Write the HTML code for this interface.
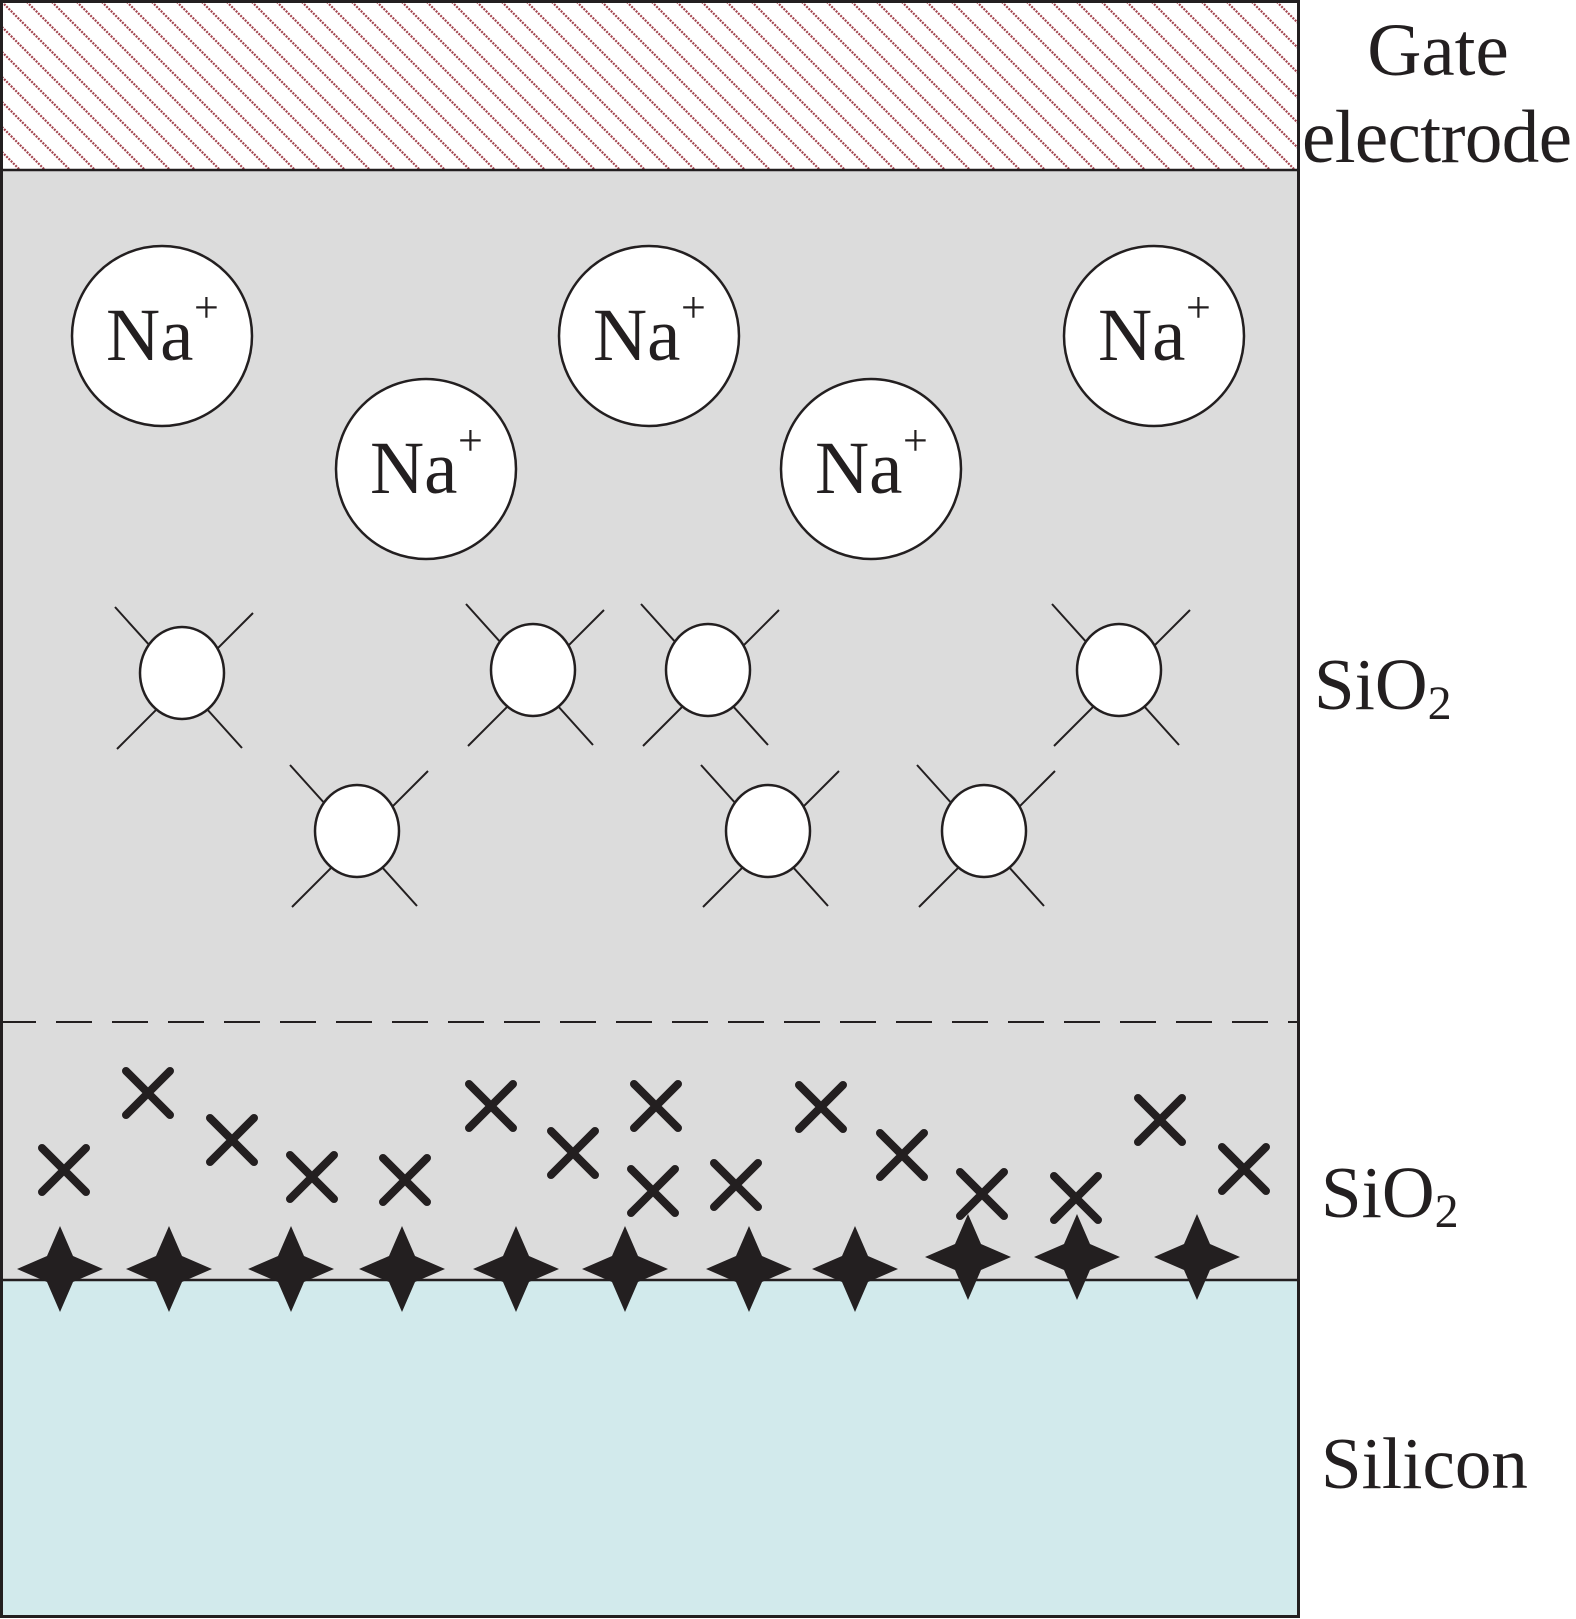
<!DOCTYPE html>
<html><head><meta charset="utf-8"><style>html,body{margin:0;padding:0;background:#fff}svg{display:block}</style></head>
<body>
<svg width="1576" height="1619" viewBox="0 0 1576 1619" xmlns="http://www.w3.org/2000/svg" font-family="'Liberation Serif', serif" fill="#231f20">
<defs>
<pattern id="h" width="25" height="25" patternUnits="userSpaceOnUse">
<path d="M-5,-5 L30,30 M-30,-5 L5,30 M20,-5 L55,30" stroke="#a3444e" stroke-width="2.2" stroke-dasharray="2 1.2"/>
</pattern>
<path id="st" d="M0,-43 L13,-13 L43,0 L13,13 L0,43 L-13,13 L-43,0 L-13,-13 Z"/>
<g id="x"><path d="M-22,-22 L22,22 M22,-22 L-22,22" stroke="#231f20" stroke-width="8" stroke-linecap="round"/></g>
<g id="c"><path d="M-67,-66 L60,75 M71,-60 L-65,76" stroke="#231f20" stroke-width="2"/><ellipse rx="42" ry="46" fill="#fff" stroke="#231f20" stroke-width="2.5"/></g>
<g id="na"><circle r="90" fill="#fff" stroke="#231f20" stroke-width="2.5"/><text x="-56" y="24" font-size="75">Na</text><text x="32" y="-14" font-size="44">+</text></g>
</defs>
<rect x="1.5" y="1.5" width="1297" height="168" fill="#fff"/>
<rect x="1.5" y="1.5" width="1297" height="168" fill="url(#h)"/>
<rect x="1.5" y="170" width="1297" height="1110" fill="#dcdcdc"/>
<rect x="1.5" y="1280" width="1297" height="337" fill="#d2eaec"/>
<line x1="0" y1="1022" x2="1298" y2="1022" stroke="#231f20" stroke-width="2" stroke-dasharray="36 20"/>
<rect x="1.5" y="1.5" width="1297" height="1615" fill="none" stroke="#231f20" stroke-width="3"/>
<line x1="0" y1="170" x2="1298" y2="170" stroke="#231f20" stroke-width="2.5"/>
<line x1="0" y1="1280" x2="1298" y2="1280" stroke="#231f20" stroke-width="2.5"/>
<use href="#na" x="162" y="336"/><use href="#na" x="426" y="469"/><use href="#na" x="649" y="336"/><use href="#na" x="871" y="469"/><use href="#na" x="1154" y="336"/>
<use href="#c" x="182" y="673"/><use href="#c" x="533" y="670"/><use href="#c" x="708" y="670"/><use href="#c" x="1119" y="670"/><use href="#c" x="357" y="831"/><use href="#c" x="768" y="831"/><use href="#c" x="984" y="831"/>
<use href="#x" x="64" y="1170"/><use href="#x" x="148" y="1093"/><use href="#x" x="232" y="1140"/><use href="#x" x="312" y="1177"/><use href="#x" x="405" y="1180"/><use href="#x" x="491" y="1106"/><use href="#x" x="573" y="1153"/><use href="#x" x="656" y="1106"/><use href="#x" x="653" y="1191"/><use href="#x" x="736" y="1185"/><use href="#x" x="821" y="1107"/><use href="#x" x="902" y="1155"/><use href="#x" x="982" y="1194"/><use href="#x" x="1076" y="1198"/><use href="#x" x="1160" y="1120"/><use href="#x" x="1244" y="1169"/>
<use href="#st" x="60" y="1269"/><use href="#st" x="169" y="1269"/><use href="#st" x="291" y="1269"/><use href="#st" x="402" y="1269"/><use href="#st" x="516" y="1269"/><use href="#st" x="625" y="1269"/><use href="#st" x="749" y="1269"/><use href="#st" x="855" y="1269"/><use href="#st" x="968" y="1257"/><use href="#st" x="1077" y="1257"/><use href="#st" x="1197" y="1257"/>
<text x="1438" y="75" font-size="75" text-anchor="middle">Gate</text>
<text x="1302" y="162" font-size="75" textLength="270">electrode</text>
<text x="1314" y="709" font-size="73">SiO<tspan font-size="48" dy="10">2</tspan></text>
<text x="1321" y="1217" font-size="73">SiO<tspan font-size="48" dy="10">2</tspan></text>
<text x="1321" y="1488" font-size="73">Silicon</text>
</svg>
</body></html>
